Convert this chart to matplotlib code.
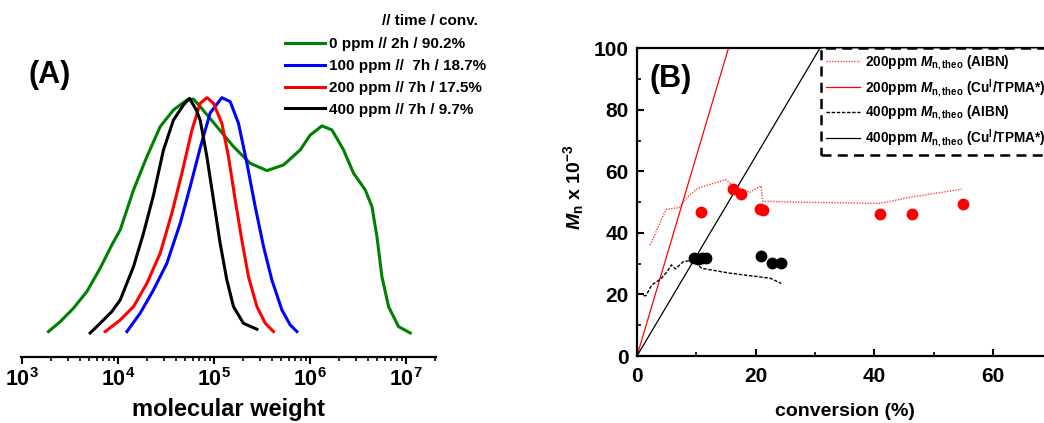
import numpy as np
import matplotlib
matplotlib.use('Agg')
import matplotlib.pyplot as plt
from matplotlib.ticker import FuncFormatter, MultipleLocator, LogLocator, NullFormatter
from matplotlib.lines import Line2D

plt.rcParams['font.family'] = ['Liberation Sans', 'DejaVu Sans']
plt.rcParams['font.weight'] = 'bold'
plt.rcParams['mathtext.fontset'] = 'custom'
plt.rcParams['mathtext.rm'] = 'Liberation Sans:bold'
plt.rcParams['mathtext.it'] = 'Liberation Sans:bold:italic'
plt.rcParams['mathtext.bf'] = 'Liberation Sans:bold'

# ---- (A) GPC traces: log10(M) and normalised RI signal
logm_0 = [3.274, 3.396, 3.534, 3.674, 3.812, 3.934, 4.021, 4.160, 4.299, 4.438, 4.576, 4.716, 4.784,
          4.854, 5.028, 5.201, 5.375, 5.549, 5.722, 5.896, 6.000, 6.122, 6.226, 6.347, 6.451, 6.573,
          6.643, 6.695, 6.747, 6.816, 6.920, 7.042]
ri_0 = [0.006, 0.048, 0.105, 0.176, 0.275, 0.374, 0.438, 0.608, 0.749, 0.877, 0.948, 0.990, 0.994,
        0.962, 0.877, 0.792, 0.721, 0.690, 0.714, 0.778, 0.841, 0.880, 0.863, 0.778, 0.679, 0.608,
        0.537, 0.409, 0.239, 0.112, 0.027, 0.0]
logm_100 = [4.091, 4.229, 4.368, 4.507, 4.646, 4.750, 4.854, 4.958, 5.080, 5.167, 5.253, 5.341,
            5.427, 5.514, 5.601, 5.705, 5.792, 5.861]
ri_100 = [0.006, 0.084, 0.183, 0.296, 0.466, 0.622, 0.786, 0.935, 1.0, 0.983, 0.891, 0.721,
          0.537, 0.367, 0.225, 0.098, 0.034, 0.006]
logm_200 = [3.865, 4.021, 4.160, 4.299, 4.438, 4.559, 4.664, 4.768, 4.854, 4.924, 4.993, 5.080,
            5.149, 5.219, 5.288, 5.357, 5.445, 5.531, 5.618]
ri_200 = [0.006, 0.055, 0.112, 0.211, 0.339, 0.509, 0.679, 0.862, 0.976, 1.0, 0.976, 0.891,
          0.749, 0.565, 0.395, 0.239, 0.112, 0.042, 0.006]
logm_400 = [3.708, 3.812, 3.934, 4.021, 4.160, 4.264, 4.368, 4.472, 4.576, 4.680, 4.743, 4.813,
            4.854, 4.924, 4.993, 5.062, 5.132, 5.201, 5.305, 5.445]
ri_400 = [0.0, 0.041, 0.091, 0.140, 0.282, 0.424, 0.586, 0.778, 0.905, 0.969, 0.997, 0.948,
          0.905, 0.749, 0.565, 0.381, 0.225, 0.112, 0.041, 0.016]
labels_a = ['0 ppm // 2h / 90.2%', '100 ppm //  7h / 18.7%', '200 ppm // 7h / 17.5%', '400 ppm // 7h / 9.7%']
colors_a = ['#008000', '#0000ff', '#ff0000', '#000000']

# ---- (B) Mn vs conversion
conv_200 = [10.7, 16.1, 17.5, 20.7, 21.3, 40.9, 46.4, 54.9]
mn_200 = [46.8, 54.3, 52.8, 47.7, 47.5, 46.1, 46.1, 49.3]
conv_400 = [9.6, 10.3, 10.9, 11.6, 20.9, 22.7, 24.2]
mn_400 = [32.0, 31.6, 31.7, 32.0, 32.6, 30.3, 30.3]
conv_aibn_200 = [2.2, 4.9, 7.1, 8.3, 10.3, 14.9, 16.2, 19.0, 20.9, 21.2, 26.9, 41.0, 46.0, 54.7]
mn_aibn_200 = [36.0, 47.7, 48.2, 51.3, 54.6, 57.3, 55.5, 53.2, 55.3, 50.3, 50.0, 49.6, 51.6, 54.2]
conv_aibn_400 = [1.1, 1.5, 2.5, 3.9, 5.0, 5.8, 6.5, 7.8, 9.2, 10.3, 10.9, 15.7, 22.4, 24.3]
mn_aibn_400 = [19.6, 19.6, 23.1, 24.9, 27.2, 29.6, 28.3, 30.7, 31.0, 29.6, 28.5, 26.9, 25.3, 23.6]
conv_theo_200 = [0, 15.4]
mn_theo_200 = [0, 100]
conv_theo_400 = [0, 30.8]
mn_theo_400 = [0, 100]

W, H = 1044, 423
fig = plt.figure(figsize=(W / 100, H / 100), dpi=100)

# ---------------- panel A
axA = fig.add_axes([20.7 / W, 1 - 357 / H, (436 - 20.7) / W, (357 - 60) / H])
for lm, ri, c in zip([logm_0, logm_100, logm_200, logm_400], [ri_0, ri_100, ri_200, ri_400], colors_a):
    axA.plot(10 ** np.array(lm), ri, color=c, lw=2.2)
axA.set_xscale('log')
axA.set_xlim(10 ** 2.985, 10 ** 7.31)
axA.set_ylim(-0.102, 1.16)
for s in ['left', 'right', 'top']:
    axA.spines[s].set_visible(False)
axA.spines['bottom'].set_linewidth(1.6)
axA.set_yticks([])
axA.xaxis.set_major_locator(LogLocator(base=10, numticks=10))
axA.xaxis.set_minor_locator(LogLocator(base=10, subs=np.arange(2, 10), numticks=20))
axA.xaxis.set_minor_formatter(NullFormatter())
axA.xaxis.set_major_formatter(FuncFormatter(lambda v, p: r'$10^{%d}$' % round(np.log10(v))))
axA.tick_params(axis='x', which='major', direction='out', length=5, width=1.5, labelsize=15.5, pad=3)
axA.tick_params(axis='x', which='minor', direction='out', length=3, width=1.2)
axA.set_xlabel('molecular weight', fontsize=17, fontweight='bold', labelpad=5)

handles_a = [Line2D([], [], color=c, lw=2.2) for c in colors_a]
fig.legend(handles_a, labels_a, loc='upper left', bbox_to_anchor=(285 / W, 1 - 37 / H),
           frameon=False, fontsize=11, handlelength=2.6, handletextpad=0.3,
           labelspacing=0.52, borderpad=0, borderaxespad=0)
fig.text(382 / W, 1 - 21 / H, '// time / conv.', fontsize=11, fontweight='bold', va='center', ha='left')
fig.text(50 / W, 1 - 75 / H, '(A)', fontsize=22, fontweight='bold', va='center', ha='center')

# ---------------- panel B
axB = fig.add_axes([637 / W, 1 - 356 / H, 415.5 / W, (356 - 48.3) / H])
l1, = axB.plot(conv_aibn_200, mn_aibn_200, color='#ff4040', lw=1.0, ls=(0, (1, 1)))
l2, = axB.plot(conv_theo_200, mn_theo_200, color='#ff0000', lw=0.9)
l3, = axB.plot(conv_aibn_400, mn_aibn_400, color='#000000', lw=1.0, ls=(0, (2.5, 1.2)))
l4, = axB.plot(conv_theo_400, mn_theo_400, color='#000000', lw=0.9)
axB.plot(conv_200, mn_200, 'o', color='#ff0000', ms=7.5, mec='#ff0000')
axB.plot(conv_400, mn_400, 'o', color='#000000', ms=7.5)
axB.set_xlim(0, 70)
axB.set_ylim(0, 100)
axB.xaxis.set_major_locator(MultipleLocator(20))
axB.xaxis.set_minor_locator(MultipleLocator(10))
axB.yaxis.set_major_locator(MultipleLocator(20))
axB.yaxis.set_minor_locator(MultipleLocator(10))
axB.tick_params(which='major', direction='in', length=5, width=1.5, labelsize=15)
axB.tick_params(which='minor', direction='in', length=3, width=1.2)
axB.tick_params(axis='x', pad=8)
axB.tick_params(axis='y', pad=6)
for s in axB.spines.values():
    s.set_linewidth(1.6)
axB.set_xlabel('conversion (%)', fontsize=14, fontweight='bold', labelpad=12)
axB.set_ylabel(r'$M_{\rm n}$ x 10$^{-3}$', fontsize=14, fontweight='bold')
axB.yaxis.set_label_coords(-0.123, 0.55)
axB.text(0.08, 0.90, '(B)', transform=axB.transAxes, fontsize=22, fontweight='bold', va='center', ha='center')

leg = axB.legend([l1, l2, l3, l4],
                 [r'200ppm $M_{\rm n,theo}$ (AIBN)', r'200ppm $M_{\rm n,theo}$ (Cu$^{\rm I}$/TPMA*)',
                  r'400ppm $M_{\rm n,theo}$ (AIBN)', r'400ppm $M_{\rm n,theo}$ (Cu$^{\rm I}$/TPMA*)'],
                 loc='upper left', bbox_to_anchor=(821 / W, 1 - 48 / H), bbox_transform=fig.transFigure,
                 fontsize=9.8, handlelength=2.5, handletextpad=0.3, labelspacing=0.38,
                 borderpad=0.4, borderaxespad=0, fancybox=False, framealpha=1)
fr = leg.get_frame()
fr.set_edgecolor('black')
fr.set_linewidth(1.8)
fr.set_linestyle((0, (4, 2.5)))

fig.savefig('out.png', dpi=100)
